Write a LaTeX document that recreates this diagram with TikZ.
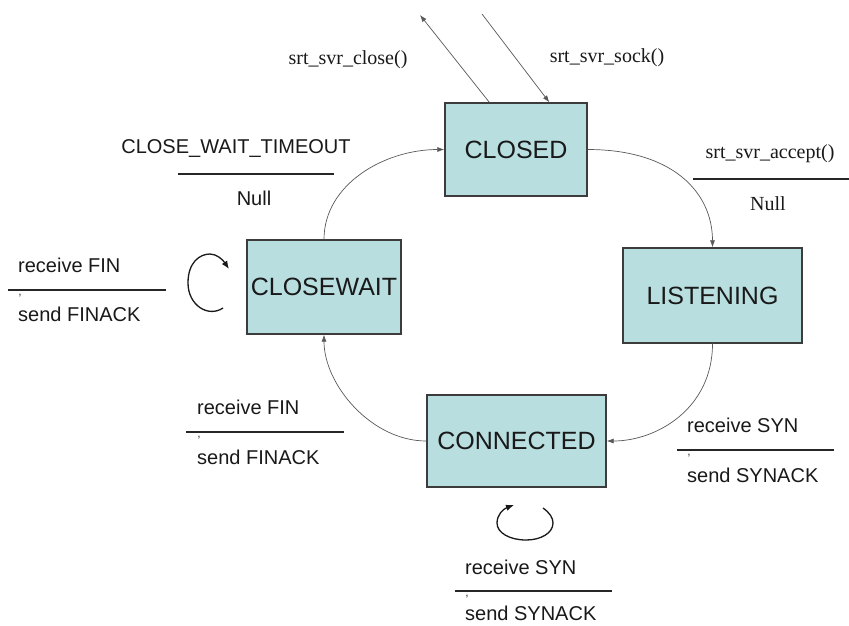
\documentclass[tikz,border=0pt]{standalone}
\usepackage{fontspec}
\setmainfont{Liberation Sans}
\newfontfamily\serifface{Liberation Serif}
\usetikzlibrary{arrows.meta}
\definecolor{boxfill}{HTML}{B9DEE0}
\definecolor{boxline}{HTML}{3C3C3C}
\begin{document}
\begin{tikzpicture}[x=1pt,y=-1pt,
  state/.style={draw=boxline,line width=1.3pt,fill=boxfill,inner sep=0pt,
    font=\fontsize{25}{28}\selectfont,text=black!90},
  edge/.style={draw=black!65,line width=0.7pt,-{Latex[length=7pt,width=5pt]}},
  loopedge/.style={draw=black!90,line width=1.3pt,-{Latex[length=8pt,width=6.5pt]}},
  lbl/.style={font=\fontsize{20}{22}\selectfont,inner sep=0pt,text=black!90},
  slbl/.style={font=\serifface\fontsize{20}{22}\selectfont,inner sep=0pt,text=black!90},
  comma/.style={font=\fontsize{12}{12}\selectfont,inner sep=0pt,text=black!80},
  bar/.style={line width=2.4pt,draw=black!85}]
\useasboundingbox (0,0) rectangle (849,625);
\fill[white] (0,0) rectangle (849,625);

% states
\node[state,minimum width=142pt,minimum height=93pt] (closed) at (516,149.5) {CLOSED};
\node[state,minimum width=154pt,minimum height=94pt] (closewait) at (324,287) {CLOSEWAIT};
\node[state,minimum width=179pt,minimum height=95pt] (listen) at (712.5,295.5) {LISTENING};
\node[state,minimum width=179pt,minimum height=92pt] (connected) at (516.5,441) {CONNECTED};

% free ends of the socket create/close arrows
\coordinate (closeend) at (420,15);
\coordinate (sockstart) at (482,14);

% transitions
\draw[edge] ([xshift=45pt]closed.north west) -- (closeend);
\draw[edge] (sockstart) -- ([xshift=105pt]closed.north west);
\draw[edge] (closed.east) .. controls +(85,0) and +(0,-55) .. (listen.north);
\draw[edge] (listen.south) .. controls +(0,65) and +(50,0) .. (connected.east);
\draw[edge] (connected.west) .. controls +(-55,0) and +(0,50) .. (closewait.south);
\draw[edge] (closewait.north) .. controls +(0,-55) and +(-60,0) .. (closed.west);

% self loops
\draw[loopedge] (223,308) .. controls (208,318) and (188,305) .. (188,283)
  .. controls (188,262) and (200,254) .. (210,254)
  .. controls (217,254) and (223,260) .. (229,269);
\draw[loopedge] (543,508) .. controls (550,513) and (553,518) .. (553,523)
  .. controls (553,533) and (541,540) .. (526,540)
  .. controls (510,540) and (497,533) .. (497,523)
  .. controls (497,515) and (503,509) .. (514,505);

% labels of the create/close calls
\node[slbl] (lclose) at (348,60) {srt\_svr\_close()};
\node[slbl] (lsock) at (607,58) {srt\_svr\_sock()};

% CLOSEWAIT -> CLOSED
\node[lbl] (ltimeout) at (236,148) {CLOSE\_WAIT\_TIMEOUT};
\draw[bar] (178,174) -- (334,174);
\node[lbl] (ltimeoutnull) at (254,198) {Null};

% CLOSED -> LISTENING
\node[slbl] (laccept) at (770,154) {srt\_svr\_accept()};
\draw[bar] (693,179) -- (849,179);
\node[slbl] (lacceptnull) at (768,204) {Null};

% CLOSEWAIT self loop
\node[lbl,anchor=west] (lfin1) at (18,265) {receive FIN};
\draw[bar] (8,290) -- (166,290);
\node[comma] (c1) at (20,296) {,};
\node[lbl,anchor=west] (lfinack1) at (18,314) {send FINACK};

% CONNECTED -> CLOSEWAIT
\node[lbl,anchor=west] (lfin2) at (197,407) {receive FIN};
\draw[bar] (186,432) -- (344,432);
\node[comma] (c2) at (199,438) {,};
\node[lbl,anchor=west] (lfinack2) at (197,457) {send FINACK};

% LISTENING -> CONNECTED
\node[lbl,anchor=west] (lsyn1) at (687,425) {receive SYN};
\draw[bar] (677,450) -- (834,450);
\node[comma] (c3) at (689,456) {,};
\node[lbl,anchor=west] (lsynack1) at (687,475) {send SYNACK};

% CONNECTED self loop
\node[lbl,anchor=west] (lsyn2) at (465,567) {receive SYN};
\draw[bar] (455,591) -- (612,591);
\node[comma] (c4) at (467,597) {,};
\node[lbl,anchor=west] (lsynack2) at (465,613) {send SYNACK};
\end{tikzpicture}
\end{document}
